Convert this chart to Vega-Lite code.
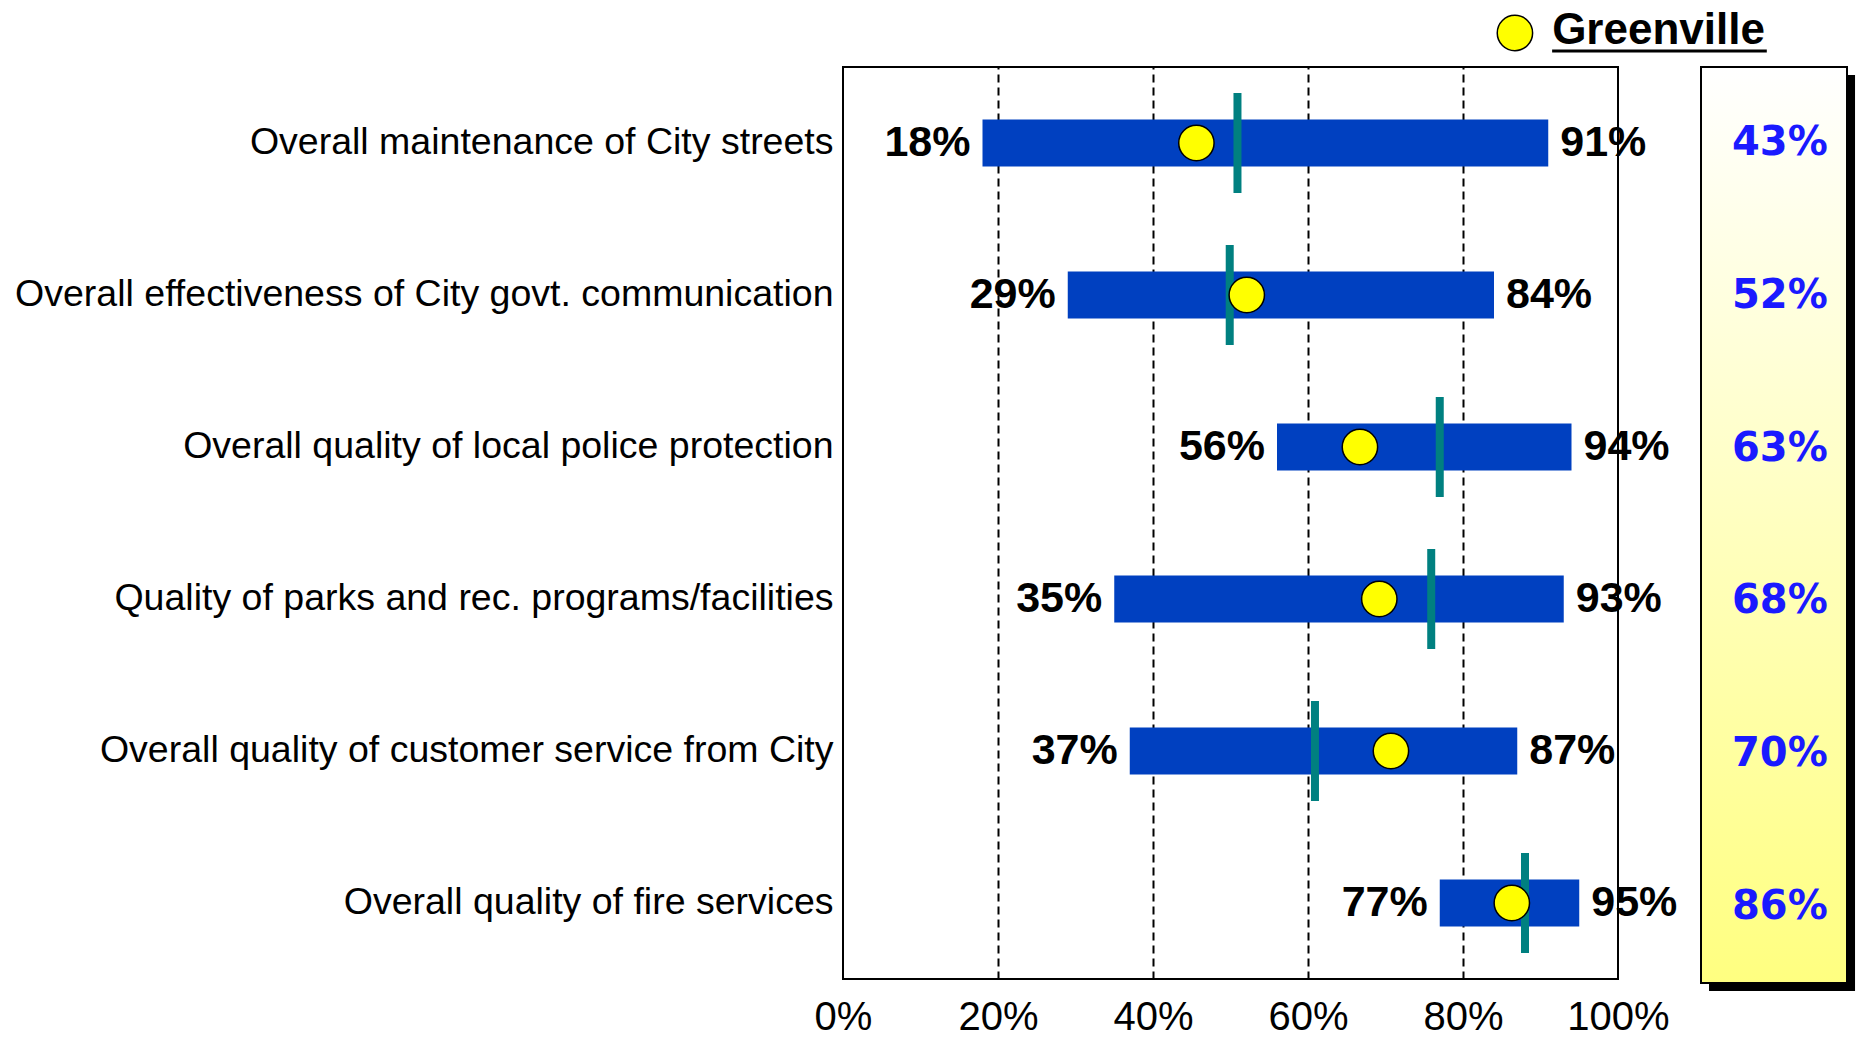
{
  "$schema": "https://vega.github.io/schema/vega-lite/v6.json",
  "background": "white",
  "padding": {"left": 13, "top": 8, "right": 5, "bottom": 5},
  "bounds": "flush",
  "spacing": 83,
  "config": {"font": "Liberation Sans", "view": {"stroke": null}},
  "data": {"values": [
    {"item": "Overall maintenance of City streets", "low": 0.18, "high": 0.91, "greenville": 0.456, "benchmark": 0.509, "panel": 0.43},
    {"item": "Overall effectiveness of City govt. communication", "low": 0.29, "high": 0.84, "greenville": 0.521, "benchmark": 0.499, "panel": 0.52},
    {"item": "Overall quality of local police protection", "low": 0.56, "high": 0.94, "greenville": 0.667, "benchmark": 0.770, "panel": 0.63},
    {"item": "Quality of parks and rec. programs/facilities", "low": 0.35, "high": 0.93, "greenville": 0.692, "benchmark": 0.759, "panel": 0.68},
    {"item": "Overall quality of customer service from City", "low": 0.37, "high": 0.87, "greenville": 0.707, "benchmark": 0.609, "panel": 0.70},
    {"item": "Overall quality of fire services", "low": 0.77, "high": 0.95, "greenville": 0.863, "benchmark": 0.880, "panel": 0.86}
  ]},
  "hconcat": [
    {
      "width": 775,
      "height": 912,
      "view": {"stroke": "black", "strokeWidth": 2},
      "encoding": {
        "y": {
          "field": "item", "type": "nominal", "sort": null,
          "scale": {"paddingInner": 0, "paddingOuter": 0},
          "axis": {"title": null, "ticks": false, "domain": false, "labelFontSize": 37.5, "labelColor": "black", "labelPadding": 10, "labelLimit": 2000}
        }
      },
      "layer": [
        {
          "mark": {"type": "bar", "size": 47, "color": "#0040C0"},
          "encoding": {
            "x": {
              "field": "low", "type": "quantitative",
              "scale": {"domain": [0, 1], "nice": false},
              "axis": {"title": null, "values": [0, 0.2, 0.4, 0.6, 0.8, 1], "format": ".0%", "ticks": false, "domain": false,
                       "labelFontSize": 40, "labelColor": "black", "labelPadding": 18, "labelFlush": false,
                       "grid": true, "gridColor": "black", "gridDash": [8, 5], "gridWidth": 2,
                       "gridOpacity": {"condition": {"test": "datum.value <= 0.001 || datum.value >= 0.999", "value": 0}, "value": 1}}
            },
            "x2": {"field": "high"}
          }
        },
        {
          "mark": {"type": "tick", "color": "#008080", "thickness": 8, "size": 100, "opacity": 1},
          "encoding": {"x": {"field": "benchmark", "type": "quantitative"}}
        },
        {
          "mark": {"type": "point", "shape": "circle", "filled": true, "fill": "#FFFF00", "stroke": "black", "strokeWidth": 1.5, "size": 1250, "opacity": 1},
          "encoding": {"x": {"field": "greenville", "type": "quantitative"}}
        },
        {
          "mark": {"type": "text", "align": "right", "baseline": "middle", "dx": -12, "fontSize": 43, "fontWeight": "bold", "color": "black"},
          "encoding": {"x": {"field": "low", "type": "quantitative"}, "text": {"field": "low", "type": "quantitative", "format": ".0%"}}
        },
        {
          "mark": {"type": "text", "align": "left", "baseline": "middle", "dx": 12, "fontSize": 43, "fontWeight": "bold", "color": "black"},
          "encoding": {"x": {"field": "high", "type": "quantitative"}, "text": {"field": "high", "type": "quantitative", "format": ".0%"}}
        },
        {
          "data": {"values": [{}]},
          "mark": {"type": "point", "shape": "circle", "filled": true, "fill": "#FFFF00", "stroke": "black", "strokeWidth": 1.5, "size": 1250, "opacity": 1, "yOffset": -34},
          "encoding": {
            "x": {"datum": 0.867, "type": "quantitative"},
            "y": {"datum": "Overall maintenance of City streets", "type": "nominal", "bandPosition": 0}
          }
        },
        {
          "data": {"values": [{}]},
          "mark": {"type": "text", "align": "left", "baseline": "middle", "yOffset": -36, "fontSize": 44, "fontWeight": "bold", "color": "black"},
          "encoding": {
            "x": {"datum": 0.915, "type": "quantitative"},
            "y": {"datum": "Overall maintenance of City streets", "type": "nominal", "bandPosition": 0},
            "text": {"value": "Greenville"}
          }
        },
        {
          "data": {"values": [{}]},
          "mark": {"type": "rule", "yOffset": -16, "strokeWidth": 3, "color": "black"},
          "encoding": {
            "x": {"datum": 0.915, "type": "quantitative"},
            "x2": {"datum": 1.192},
            "y": {"datum": "Overall maintenance of City streets", "type": "nominal", "bandPosition": 0}
          }
        }
      ]
    },
    {
      "width": 146,
      "height": 916,
      "layer": [
        {
          "data": {"values": [{}]},
          "mark": {"type": "rect", "color": "black", "opacity": 1},
          "encoding": {
            "x": {"datum": 0.055, "type": "quantitative", "scale": {"domain": [0, 1], "nice": false, "zero": false}, "axis": null},
            "x2": {"datum": 1.055},
            "y": {"datum": -0.0087, "type": "quantitative", "scale": {"domain": [0, 1], "nice": false, "zero": false}, "axis": null},
            "y2": {"datum": 0.9913}
          }
        },
        {
          "data": {"values": [{}]},
          "mark": {"type": "rect", "stroke": "black", "strokeWidth": 2, "opacity": 1,
                   "fill": {"gradient": "linear", "x1": 0, "y1": 0, "x2": 0, "y2": 1,
                            "stops": [{"offset": 0, "color": "#FFFFFF"}, {"offset": 1, "color": "#FFFF80"}]}},
          "encoding": {
            "x": {"datum": 0, "type": "quantitative", "axis": null},
            "x2": {"datum": 1},
            "y": {"datum": 0, "type": "quantitative", "axis": null},
            "y2": {"datum": 1}
          }
        },
        {
          "mark": {"type": "text", "align": "center", "baseline": "middle", "font": "DejaVu Sans", "fontSize": 40, "fontWeight": "bold", "color": "#1A1AFF"},
          "encoding": {
            "x": {"datum": 0.54, "type": "quantitative", "axis": null},
            "y": {"field": "item", "type": "nominal", "sort": null, "scale": {"paddingInner": 0, "paddingOuter": 0}, "axis": null},
            "text": {"field": "panel", "type": "quantitative", "format": ".0%"}
          }
        }
      ],
      "resolve": {"scale": {"y": "independent"}}
    }
  ],
  "resolve": {"scale": {"x": "independent", "y": "independent"}}
}
